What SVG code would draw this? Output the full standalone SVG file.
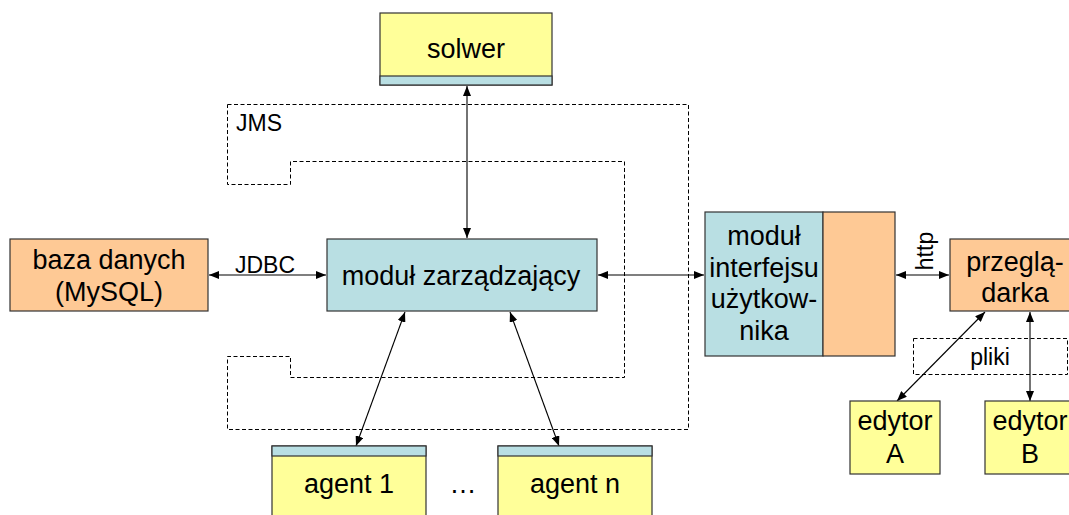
<svg xmlns="http://www.w3.org/2000/svg" width="1069" height="515" viewBox="0 0 1069 515">
  <style>
    .box { stroke: #333333; stroke-width: 1.2; }
    .yellow { fill: #ffff99; }
    .blue { fill: #b9dfe3; }
    .orange { fill: #fec995; }
    .t { font-family: "Liberation Sans", Arial, sans-serif; font-size: 27px; fill: #000; text-anchor: middle; }
    .lbl { font-family: "Liberation Sans", Arial, sans-serif; font-size: 23px; fill: #000; }
    .dash { fill: none; stroke: #000; stroke-width: 1; stroke-dasharray: 4 2.5; }
    .conn { stroke: #000; stroke-width: 1.1; fill: none; marker-start: url(#head); marker-end: url(#head); }
  </style>
  <defs>
    <marker id="head" viewBox="0 0 10 8" refX="10" refY="4" markerWidth="10" markerHeight="8" markerUnits="userSpaceOnUse" orient="auto-start-reverse">
      <path d="M0,0 L10,4 L0,8 Z" fill="#000"/>
    </marker>
  </defs>
  <rect width="1069" height="515" fill="#ffffff"/>

  <!-- JMS messaging region -->
  <g id="jms">
    <path class="dash" d="M227.5,104.5 H688.5 V429.5 H227.5 V356.5 H290.5 V377.5 H624.5 V161.5 H290.5 V184.5 H227.5 Z"/>
    <text class="lbl" x="236" y="131">JMS</text>
  </g>

  <!-- files region -->
  <g id="pliki">
    <rect class="dash" x="913.5" y="338.5" width="154" height="36"/>
    <text class="lbl" x="990" y="365" text-anchor="middle">pliki</text>
  </g>

  <!-- connectors -->
  <g id="connectors">
    <line class="conn" x1="467" y1="86" x2="467" y2="238"/>
    <line class="conn" x1="209" y1="275" x2="326" y2="275"/>
    <line class="conn" x1="598" y1="275" x2="704" y2="275"/>
    <line class="conn" x1="896" y1="275" x2="949" y2="275"/>
    <line class="conn" x1="405" y1="312" x2="356" y2="446"/>
    <line class="conn" x1="510" y1="312" x2="559" y2="446"/>
    <line class="conn" x1="985" y1="312" x2="897" y2="401"/>
    <line class="conn" x1="1030" y1="312" x2="1030" y2="401"/>
    <text class="lbl" x="265" y="273" text-anchor="middle">JDBC</text>
    <text class="lbl" transform="translate(933,251) rotate(-90)" text-anchor="middle">http</text>
  </g>

  <g id="solwer">
    <rect class="box yellow" x="380" y="13" width="172" height="72"/>
    <rect class="box blue" x="380" y="76" width="172" height="9"/>
    <text class="t" x="466" y="58">solwer</text>
  </g>

  <g id="baza">
    <rect class="box orange" x="10" y="239" width="198" height="72"/>
    <text class="t" x="109" y="269">baza danych</text>
    <text class="t" x="109" y="301">(MySQL)</text>
  </g>

  <g id="modul-zarzadzajacy">
    <rect class="box blue" x="327" y="239" width="270" height="72"/>
    <text class="t" x="461" y="285">moduł zarządzający</text>
  </g>

  <g id="modul-interfejsu">
    <rect class="box blue" x="705" y="212" width="118" height="144"/>
    <rect class="box orange" x="823" y="212" width="72" height="144"/>
    <text class="t" x="764" y="245">moduł</text>
    <text class="t" x="764" y="277">interfejsu</text>
    <text class="t" x="764" y="308">użytkow-</text>
    <text class="t" x="764" y="340">nika</text>
  </g>

  <g id="przegladarka">
    <rect class="box orange" x="950" y="239" width="130" height="72"/>
    <text class="t" x="1015" y="271">przeglą-</text>
    <text class="t" x="1015" y="302">darka</text>
  </g>

  <g id="edytor-a">
    <rect class="box yellow" x="850" y="401" width="90" height="73"/>
    <text class="t" x="895" y="430">edytor</text>
    <text class="t" x="895" y="463">A</text>
  </g>

  <g id="edytor-b">
    <rect class="box yellow" x="985" y="401" width="92" height="73"/>
    <text class="t" x="1030" y="430">edytor</text>
    <text class="t" x="1030" y="463">B</text>
  </g>

  <g id="agent-1">
    <rect class="box yellow" x="272" y="446" width="154" height="80"/>
    <rect class="box blue" x="272" y="446" width="154" height="10"/>
    <text class="t" x="349" y="493">agent 1</text>
  </g>

  <text class="t" x="463" y="493">…</text>

  <g id="agent-n">
    <rect class="box yellow" x="498" y="446" width="154" height="80"/>
    <rect class="box blue" x="498" y="446" width="154" height="10"/>
    <text class="t" x="575" y="493">agent n</text>
  </g>
</svg>
